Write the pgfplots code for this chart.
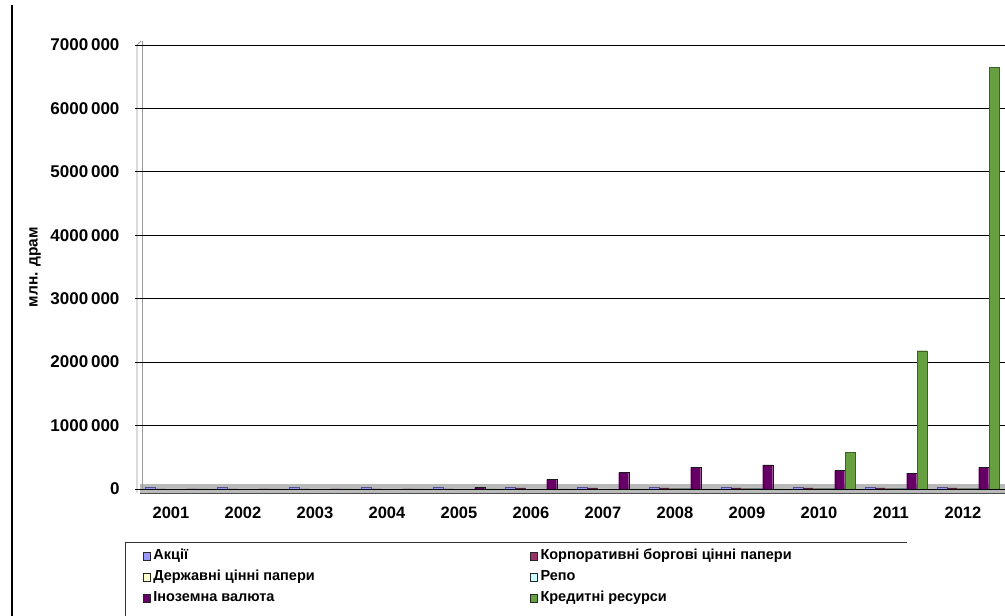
\documentclass[border=0pt]{standalone}
\usepackage{fontspec}
\setmainfont{Liberation Sans}
\usepackage{pgfplots}
\pgfplotsset{compat=1.18}
\definecolor{cA}{RGB}{153,153,255}
\definecolor{cK}{RGB}{153,51,102}
\definecolor{cD}{RGB}{255,255,204}
\definecolor{cR}{RGB}{204,255,255}
\definecolor{cI}{RGB}{102,0,102}
\definecolor{cC}{RGB}{102,160,64}
\begin{document}
\begin{tikzpicture}[x=1pt,y=1pt]
% floor band and wall (decoration)
\fill[gray!55] (140,123) rectangle (1005,132);
\draw[black!70, line width=0.8pt] (140,123) -- (1005,123);
\draw[gray!80, line width=0.8pt] (137,123) -- (137,571) -- (141,575);
\draw[gray!80, line width=0.8pt] (142,127) -- (142,575);
\begin{axis}[
  at={(140pt,127pt)}, anchor=south west,
  scale only axis, width=865pt, height=444pt,
  ybar=0.5pt, bar width=10pt,
  xmin=-0.5, xmax=11.514, ymin=0, ymax=7000000,
  xtick={0,1,2,3,4,5,6,7,8,9,10,11},
  xticklabels={2001,2002,2003,2004,2005,2006,2007,2008,2009,2010,2011,2012},
  xtick style={draw=none},
  ytick={0,1000000,2000000,3000000,4000000,5000000,6000000,7000000},
  yticklabels={0,1000\,000,2000\,000,3000\,000,4000\,000,5000\,000,6000\,000,7000\,000},
  scaled y ticks=false,
  axis x line*=bottom, axis y line*=left,
  x axis line style={draw=none},
  y axis line style={draw=none},
  ytick style={black, line width=0.8pt},
  tick align=outside, major tick length=5pt,
  ymajorgrids, grid style={black, line width=0.9pt},
  yticklabel style={font=\fontsize{17}{20}\selectfont\bfseries, xshift=-12pt},
  xticklabel style={font=\fontsize{16.5}{19}\selectfont\bfseries, yshift=-9pt, xshift=-5pt},
  ylabel={млн. драм},
  every axis y label/.style={at={(axis description cs:0,0.5)}, xshift=-105pt, rotate=90, anchor=center, font=\fontsize{15.5}{18}\selectfont\bfseries},
  legend columns=2,
  legend cell align=left,
  legend image code/.code={\draw[#1, draw=black!85, line width=0.7pt] (0pt,-4pt) rectangle (7pt,4pt);},
  legend style={at={(rel axis cs:0.0035,-0.1351)}, anchor=north west, draw=none, fill=none,
    inner sep=0pt, font=\fontsize{14.5}{17}\selectfont\bfseries,
    nodes={text height=9pt, text depth=3pt, inner sep=1.5pt, inner xsep=2.5pt},
    row sep=6pt,
    /tikz/every even column/.append style={column sep=213pt}},
]
\addplot[fill=cA, draw=cA!55!black, line width=0.4pt] coordinates {(0,22000) (1,22000) (2,22000) (3,22000) (4,22000) (5,22000) (6,22000) (7,22000) (8,22000) (9,22000) (10,22000) (11,22000)};
\addlegendentry{Акції}
\addplot[fill=cK, draw=cK!60!black, line width=0.4pt] coordinates {(0,0) (1,0) (2,0) (3,0) (4,0) (5,18000) (6,18000) (7,18000) (8,18000) (9,18000) (10,18000) (11,18000)};
\addlegendentry{Корпоративні боргові цінні папери}
\addplot[fill=cD, draw=cD!50!black, line width=0.4pt] coordinates {(0,0) (1,0) (2,0) (3,0) (4,0) (5,0) (6,0) (7,18000) (8,18000) (9,18000) (10,18000) (11,18000)};
\addlegendentry{Державні цінні папери}
\addplot[fill=cR, draw=cR!50!black, line width=0.4pt] coordinates {(0,0) (1,0) (2,0) (3,0) (4,0) (5,0) (6,0) (7,18000) (8,18000) (9,18000) (10,18000) (11,18000)};
\addlegendentry{Репо}
\addplot[fill=cI, draw=black!90, line width=0.4pt] coordinates {(0,0) (1,0) (2,0) (3,0) (4,22000) (5,150000) (6,260000) (7,340000) (8,380000) (9,290000) (10,250000) (11,340000)};
\addlegendentry{Іноземна валюта}
\addplot[fill=cC, draw=black!40!cC, line width=0.4pt] coordinates {(0,0) (1,0) (2,0) (3,0) (4,0) (5,0) (6,0) (7,0) (8,0) (9,580000) (10,2180000) (11,6650000)};
\addlegendentry{Кредитні ресурси}
\end{axis}
% legend frame and outer border (decoration)
\draw[black!80, line width=0.8pt] (125,74) -- (907,74);
\draw[black!80, line width=0.8pt] (125,74) -- (125,0);
\draw[black, line width=1.2pt] (12,0) -- (12,611);
\pgfresetboundingbox
\path[use as bounding box] (0,0) rectangle (1005,616);
\end{tikzpicture}
\end{document}
